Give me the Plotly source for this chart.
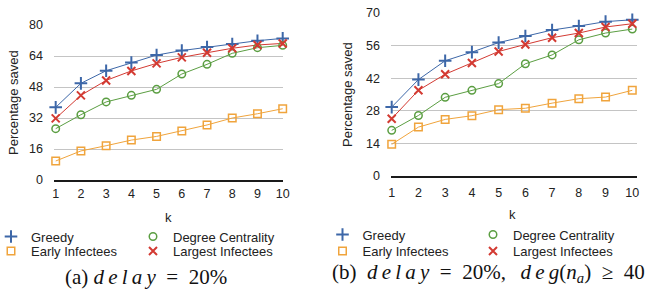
import plotly.graph_objects as go

W, H = 650, 291

k = [1, 2, 3, 4, 5, 6, 7, 8, 9, 10]
series_names = ["Greedy", "Degree Centrality", "Early Infectees", "Largest Infectees"]

a_greedy = [37.5, 49.9, 56.4, 60.6, 64.5, 66.8, 68.6, 70.2, 71.9, 73.1]
a_degree = [26.5, 33.7, 40.3, 43.7, 46.8, 54.7, 59.7, 65.4, 68.3, 69.5]
a_early = [9.8, 15.0, 17.7, 20.6, 22.5, 25.3, 28.4, 32.0, 34.2, 36.8]
a_largest = [31.8, 43.7, 51.4, 56.3, 60.2, 63.3, 65.7, 68.0, 69.7, 70.5]

b_greedy = [29.6, 41.4, 49.5, 53.2, 57.3, 60.1, 62.7, 64.4, 66.3, 67.1]
b_degree = [19.6, 26.0, 33.8, 36.8, 39.7, 48.2, 52.0, 58.5, 61.4, 63.1]
b_early = [13.6, 21.0, 24.3, 25.9, 28.5, 29.1, 31.3, 33.2, 33.9, 36.8]
b_largest = [24.6, 36.8, 43.7, 48.5, 53.5, 56.5, 59.4, 61.4, 64.0, 65.4]

a_yticks = [0, 16, 32, 48, 64, 80]
b_yticks = [0, 14, 28, 42, 56, 70]

colors = ["#3d67a8", "#5b9e42", "#f0a43c", "#d33a32"]
symbols = ["cross-thin", "circle-open", "square-open", "x-thin"]
sizes = [9, 7.5, 7.5, 8]
mlw = [2, 1.5, 1.5, 2]

FONT = "Liberation Sans, Arial, sans-serif"
TXT = "#222222"


def px(x):
    return x / W


def py(y):
    return 1 - y / H


fig = go.Figure()

panels = [
    ("x", "y", [a_greedy, a_degree, a_early, a_largest], 0),
    ("x2", "y2", [b_greedy, b_degree, b_early, b_largest], 4),
]

for xa, ya, data, lg0 in panels:
    for i, vals in enumerate(data):
        fig.add_trace(go.Scatter(
            x=k, y=vals, mode="lines", xaxis=xa, yaxis=ya,
            line=dict(color=colors[i], width=1), showlegend=False,
            hoverinfo="skip", cliponaxis=False))
    for i, vals in enumerate(data):
        lgid = "legend" if lg0 + i == 0 else "legend%d" % (lg0 + i + 1)
        fig.add_trace(go.Scatter(
            x=k, y=vals, mode="markers", xaxis=xa, yaxis=ya,
            name=series_names[i], legend=lgid,
            marker=dict(symbol=symbols[i], size=sizes[i], color=colors[i],
                        line=dict(color=colors[i], width=mlw[i])),
            cliponaxis=False))


def xaxis_cfg(standoff):
    return dict(showgrid=False, zeroline=False, ticks="",
                tickfont=dict(family=FONT, size=12.5, color=TXT),
                showline=True, linecolor="#1a1a1a", linewidth=1.5,
                tickmode="array", tickvals=k, ticktext=[str(v) for v in k],
                ticklabelstandoff=standoff, fixedrange=True)


yaxis_common = dict(showgrid=True, gridcolor="#c4c4c4", gridwidth=1,
                    zeroline=False, ticks="", showline=False,
                    tickfont=dict(family=FONT, size=12.5, color=TXT),
                    tickmode="array", ticklabelstandoff=10, fixedrange=True)

fig.update_layout(
    width=W, height=H,
    margin=dict(l=0, r=0, t=0, b=0, autoexpand=False),
    paper_bgcolor="white", plot_bgcolor="white",
    xaxis=dict(domain=[px(54), px(283)], range=[0.933, 10.012], anchor="y", **xaxis_cfg(1)),
    yaxis=dict(domain=[py(180), py(25)], range=[0, 80.01], anchor="x",
               tickvals=a_yticks, ticktext=[str(v) for v in a_yticks], **yaxis_common),
    xaxis2=dict(domain=[px(391), px(637)], range=[0.974, 10.176], anchor="y2", **xaxis_cfg(4)),
    yaxis2=dict(domain=[py(176), py(13)], range=[0, 70.01], anchor="x2",
                tickvals=b_yticks, ticktext=[str(v) for v in b_yticks], **yaxis_common),
)

leg_pos = [
    (-9, 236.5), (133, 236.5), (-9, 251), (133, 251),
    (322.5, 234.5), (473, 234.5), (322.5, 251), (473, 251),
]
for j, (lx, ly) in enumerate(leg_pos):
    key = "legend" if j == 0 else "legend%d" % (j + 1)
    fig.update_layout({key: dict(
        x=px(lx), y=py(ly), xanchor="left", yanchor="middle",
        orientation="v", bgcolor="rgba(0,0,0,0)", borderwidth=0,
        font=dict(family=FONT, size=13, color=TXT),
        itemclick=False, itemdoubleclick=False)})


def note(text, x, y, font, angle=0):
    return dict(text=text, x=px(x), y=py(y), xref="paper", yref="paper",
                xanchor="center", yanchor="middle", textangle=angle,
                showarrow=False, font=font)


sans = dict(family=FONT, size=13, color=TXT)
ann = [
    note("Percentage saved", 13, 103, sans, -90),
    note("Percentage saved", 348, 95, sans, -90),
    note("k", 168, 217, sans),
    note("k", 512, 214, sans),
]
SERIF = "Liberation Serif, Times New Roman, serif"
serif = dict(family=SERIF, size=21, color="#111111")
thin = "\u2009"
delay = "<i>" + thin.join("delay") + "</i>"
deg = "<i>" + thin.join("deg") + "</i>"
ann.append(note("(a) " + delay + "\u2002=\u200220%", 146, 277, serif))
ann.append(note("(b)\u2002" + delay + "\u2002=\u200220%,\u2002\u2009" + deg +
                "(<i>n</i><sub><i>a</i></sub>)\u2002\u2265\u200240", 488, 273, serif))
fig.update_layout(annotations=ann)

fig.write_html("out.html", config={"displayModeBar": False},
               post_script="document.body.style.margin='0px';")
